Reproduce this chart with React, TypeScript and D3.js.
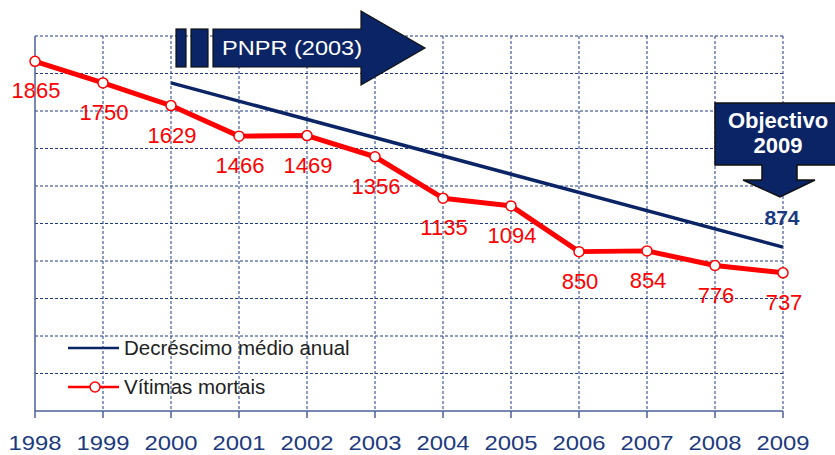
import React from "react";
import * as d3 from "d3";

const years = [1998, 1999, 2000, 2001, 2002, 2003, 2004, 2005, 2006, 2007, 2008, 2009];
const victims = [1865, 1750, 1629, 1466, 1469, 1356, 1135, 1094, 850, 854, 776, 737];
const trendYears = [2000, 2009];
const trendValues = [1750, 874];
const gridValues = [200, 400, 600, 800, 1000, 1200, 1400, 1600, 1800, 2000];
const legendLabels = ["Decréscimo médio anual", "Vítimas mortais"];
const pnprLabel = "PNPR (2003)";
const objectiveLines = ["Objectivo", "2009"];
const objectiveValue = "874";

const W = 835;
const H = 455;
const FONT = "'Liberation Sans', Arial, sans-serif";
const NAVY = "#0b2466";
const GRID = "#1f3a82";
const AXIS = "#4b6098";
const RED = "#ff0000";

export default function App() {
  const x = d3.scaleLinear().domain([1998, 2009]).range([35, 783]);
  const y = d3.scaleLinear().domain([0, 2000]).range([411, 36]);

  const line = d3
    .line<number>()
    .x((_, i) => x(years[i]))
    .y((d) => y(d));
  const trendLine = d3
    .line<number>()
    .x((_, i) => x(trendYears[i]))
    .y((d) => y(d));

  const top = y(2000);
  const base = y(0);

  return (
    <svg
      width={W}
      height={H}
      style={{ position: "absolute", left: 0, top: 0, background: "#fff" }}
      fontFamily={FONT}
    >
      {/* grid */}
      {gridValues.map((v) => (
        <line
          key={"h" + v}
          x1={x(1998)}
          x2={x(2009)}
          y1={y(v)}
          y2={y(v)}
          stroke={GRID}
          strokeWidth={1}
          strokeDasharray="3,2"
        />
      ))}
      {years.slice(1).map((yr) => (
        <line
          key={"v" + yr}
          x1={x(yr)}
          x2={x(yr)}
          y1={top}
          y2={base}
          stroke={GRID}
          strokeWidth={1}
          strokeDasharray="3,2"
        />
      ))}
      {/* axes */}
      <line x1={x(1998)} x2={x(1998)} y1={top} y2={base} stroke={AXIS} strokeWidth={1.5} />
      <line x1={x(1998)} x2={x(2009)} y1={base} y2={base} stroke={AXIS} strokeWidth={1.5} />
      {years.map((yr) => (
        <line key={"t" + yr} x1={x(yr)} x2={x(yr)} y1={base} y2={base + 7} stroke={AXIS} strokeWidth={1.5} />
      ))}
      {years.map((yr) => (
        <text
          key={"yl" + yr}
          x={x(yr)}
          y={450}
          textAnchor="middle"
          fontSize={21}
          fill="#1c3a7e"
          textLength={53}
          lengthAdjust="spacingAndGlyphs"
        >
          {yr}
        </text>
      ))}

      {/* PNPR arrow */}
      <g fill={NAVY} stroke="#111" strokeWidth={1.2}>
        <rect x={176} y={29} width={10} height={38} />
        <rect x={191} y={29} width={17} height={38} />
        <path d="M213,29 L361,29 L361,11 L425,48 L361,85 L361,67 L213,67 Z" />
      </g>
      <text x={222} y={55} fontSize={21} fill="#fff" textLength={140} lengthAdjust="spacingAndGlyphs">
        {pnprLabel}
      </text>

      {/* trend line */}
      <path d={trendLine(trendValues) || ""} fill="none" stroke={NAVY} strokeWidth={3.5} />

      {/* victims line */}
      <path d={line(victims) || ""} fill="none" stroke={RED} strokeWidth={5} strokeLinejoin="round" />
      {victims.map((v, i) => (
        <circle key={"c" + i} cx={x(years[i])} cy={y(v)} r={5} fill="#fff" stroke={RED} strokeWidth={1.5} />
      ))}
      {victims.map((v, i) => (
        <text
          key={"l" + i}
          x={x(years[i]) + 1}
          y={y(v) + 37}
          textAnchor="middle"
          fontSize={22}
          fill={RED}
        >
          {v}
        </text>
      ))}

      {/* Objective callout */}
      <path
        d="M715,103 L836,103 L836,165 L797,165 L797,180 L815,180 L780,197 L743,180 L762,180 L762,165 L715,165 Z"
        fill={NAVY}
        stroke="#111"
        strokeWidth={1.5}
      />
      <text x={778} y={128} textAnchor="middle" fontSize={22} fontWeight="bold" fill="#fff">
        {objectiveLines[0]}
      </text>
      <text x={778} y={153} textAnchor="middle" fontSize={22} fontWeight="bold" fill="#fff">
        {objectiveLines[1]}
      </text>
      <text x={782} y={225} textAnchor="middle" fontSize={21} fontWeight="bold" fill="#1c3a7e">
        {objectiveValue}
      </text>

      {/* legend */}
      <line x1={68} x2={119} y1={348} y2={348} stroke={NAVY} strokeWidth={2.5} />
      <text x={124} y={355} fontSize={20.5} fill="#222">
        {legendLabels[0]}
      </text>
      <line x1={68} x2={119} y1={387} y2={387} stroke={RED} strokeWidth={2.5} />
      <circle cx={95} cy={387} r={5} fill="#fff" stroke={RED} strokeWidth={1.5} />
      <text x={124} y={394} fontSize={20.5} fill="#222">
        {legendLabels[1]}
      </text>
    </svg>
  );
}
